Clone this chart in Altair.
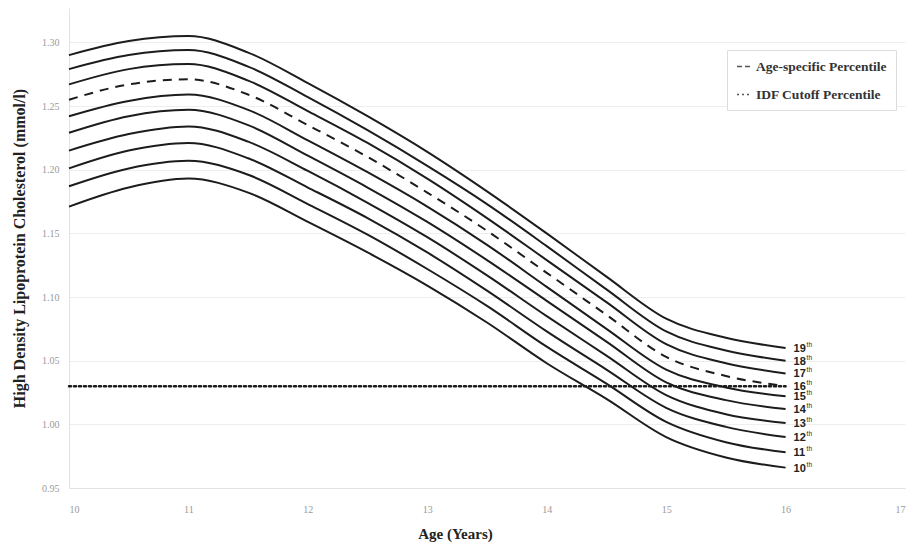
import altair as alt
import pandas as pd

# Age grid (years) shared by all percentile curves
ages = [10, 10.5, 11, 11.5, 12, 12.5, 13, 13.5, 14, 14.5, 15, 15.5, 16]

# HDL-C (mmol/l) by percentile, 10th..19th
p10 = [1.171, 1.186, 1.193, 1.182, 1.159, 1.135, 1.109, 1.080, 1.048, 1.020, 0.990, 0.974, 0.966]
p11 = [1.187, 1.201, 1.207, 1.196, 1.173, 1.149, 1.122, 1.093, 1.061, 1.032, 1.002, 0.986, 0.978]
p12 = [1.201, 1.215, 1.221, 1.209, 1.186, 1.162, 1.135, 1.105, 1.073, 1.043, 1.013, 0.998, 0.990]
p13 = [1.215, 1.228, 1.234, 1.222, 1.199, 1.174, 1.147, 1.117, 1.085, 1.054, 1.023, 1.008, 1.001]
p14 = [1.229, 1.242, 1.247, 1.235, 1.211, 1.186, 1.159, 1.129, 1.097, 1.065, 1.033, 1.019, 1.012]
p15 = [1.242, 1.254, 1.259, 1.247, 1.223, 1.198, 1.171, 1.141, 1.108, 1.075, 1.043, 1.029, 1.022]
p16 = [1.255, 1.267, 1.271, 1.259, 1.235, 1.210, 1.182, 1.152, 1.119, 1.086, 1.053, 1.038, 1.030]
p17 = [1.267, 1.279, 1.283, 1.270, 1.246, 1.221, 1.193, 1.162, 1.129, 1.096, 1.063, 1.048, 1.040]
p18 = [1.279, 1.290, 1.294, 1.281, 1.257, 1.231, 1.203, 1.173, 1.140, 1.106, 1.073, 1.058, 1.050]
p19 = [1.290, 1.301, 1.305, 1.292, 1.268, 1.242, 1.214, 1.183, 1.150, 1.116, 1.083, 1.068, 1.060]

percentiles = [10, 11, 12, 13, 14, 15, 16, 17, 18, 19]
series = [p10, p11, p12, p13, p14, p15, p16, p17, p18, p19]

# IDF HDL-C cutoff (mmol/l), drawn across the age range
idf_cutoff = 1.03
idf_ages = [10, 16]

y_ticks = [0.95, 1.00, 1.05, 1.10, 1.15, 1.20, 1.25, 1.30]
x_ticks = [10, 11, 12, 13, 14, 15, 16, 17]

rows = []
for p, vals in zip(percentiles, series):
    for a, v in zip(ages, vals):
        rows.append({"age": a, "hdl": v, "pct": p})
curves = pd.DataFrame(rows)
ends = curves[curves["age"] == ages[-1]].copy()
ends["num"] = ends["pct"].astype(str)
ends["sup"] = "th"

cut = pd.DataFrame({"age": idf_ages, "hdl": [idf_cutoff] * len(idf_ages),
                    "kind": ["IDF Cutoff Percentile"] * len(idf_ages)})

SERIF = "Liberation Serif"
INK = "#1c1c1c"

x_enc = alt.X("age:Q", scale=alt.Scale(domain=[10, 17], nice=False),
              axis=alt.Axis(values=x_ticks, title="Age (Years)", format="d",
                            titleX=386, titleY=38, titleAlign="center"))
y_enc = alt.Y("hdl:Q", scale=alt.Scale(domain=[0.95, 1.327], nice=False, zero=False),
              axis=alt.Axis(values=y_ticks, format=".2f",
                            title="High Density Lipoprotein Cholesterol (mmol/l)"))

# Legend keys: both entries live in the scale domain, the dotted cutoff uses the second
dash_scale = alt.Scale(domain=["Age-specific Percentile", "IDF Cutoff Percentile"],
                       range=[[5, 3], [2, 3]])
dash_legend = alt.Legend(title=None, orient="none", legendX=658, legendY=42,
                         symbolType="stroke", symbolSize=169, symbolStrokeWidth=1.5,
                         symbolStrokeColor="#555", labelFont=SERIF, labelFontWeight="bold",
                         labelFontSize=13.5, labelColor="#333", labelOffset=5,
                         rowPadding=14, padding=9, strokeColor="#dcdcdc",
                         fillColor="white", labelLimit=300)

solid = alt.Chart(curves[curves["pct"] != 16]).mark_line(
    interpolate="monotone", color=INK, strokeWidth=2
).encode(x=x_enc, y=y_enc, detail="pct:N")

dashed = alt.Chart(curves[curves["pct"] == 16]).mark_line(
    interpolate="monotone", color=INK, strokeWidth=2, strokeDash=[9, 7]
).encode(x="age:Q", y="hdl:Q")

dotted = alt.Chart(cut).mark_line(color=INK, strokeWidth=2.5, strokeCap="round").encode(
    x="age:Q", y="hdl:Q",
    strokeDash=alt.StrokeDash("kind:N", scale=dash_scale, legend=dash_legend))

num_labels = alt.Chart(ends).mark_text(
    align="left", baseline="middle", dx=8, dy=1, font="Liberation Sans",
    fontWeight="bold", fontSize=11, color="#222"
).encode(x="age:Q", y="hdl:Q", text="num:N")

sup_labels = alt.Chart(ends).mark_text(
    align="left", baseline="middle", dx=21, dy=-3, font="Liberation Sans",
    fontSize=6.5, color="#222"
).encode(x="age:Q", y="hdl:Q", text="sup:N")

chart = alt.layer(solid, dashed, dotted, num_labels, sup_labels).properties(
    width=836, height=480,
    padding={"left": 69, "top": 8, "right": 6, "bottom": 62},
    autosize=alt.AutoSizeParams(type="none"),
).configure_view(stroke=None).configure_axis(
    labelFont=SERIF, labelFontSize=10, labelColor="#9a9a9a",
    titleFont=SERIF, titleFontWeight="bold", titleColor="#222",
    domainColor="#e2e2e2", ticks=False, grid=True, gridColor="#eeeeee",
).configure_axisY(
    titleFontSize=16, labelPadding=10, titlePadding=14,
).configure_axisX(
    titleFontSize=15, labelPadding=16, grid=False,
)

chart.save("out.html", embed_options={"renderer": "svg", "actions": False})
